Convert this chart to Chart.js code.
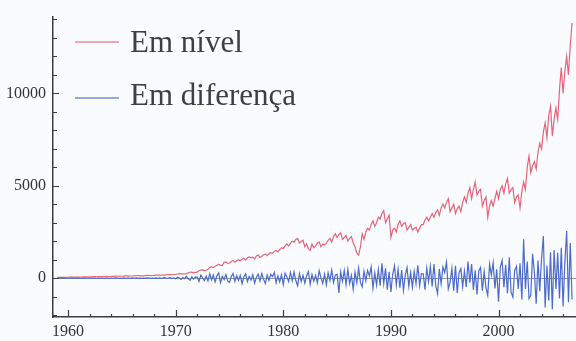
<!DOCTYPE html>
<html>
<head>
<meta charset="utf-8">
<script src="https://cdn.jsdelivr.net/npm/chart.js@4/dist/chart.umd.min.js"></script>
<style>
  html, body { margin: 0; padding: 0; background: #f9fbfd; }
  #wrap { width: 576px; height: 341px; }
  .fontprobe { position: absolute; left: -9999px; top: 0; font-family: "Liberation Serif", "DejaVu Serif", serif; }
</style>
</head>
<body>
<div id="wrap"><canvas id="c" width="576" height="341"></canvas></div>
<span class="fontprobe">Em nível 0123456789</span>
<script>
// Bimonthly series, January 1959 through November 2006 (six values per year)
const firstYear = 1959;
const periodsPerYear = 6;

const seriesNames = ['Em nível', 'Em diferença'];

// Level of the series (one row per year)
const emNivel = [
  40, 44, 48, 50, 46, 48,             // 1959
  50, 54, 58, 60, 56, 58,             // 1960
  60, 64, 68, 70, 66, 68,             // 1961
  70, 76, 80, 82, 78, 80,             // 1962
  84, 88, 92, 95, 90, 92,             // 1963
  95, 102, 108, 110, 104, 106,        // 1964
  105, 114, 120, 122, 115, 118,       // 1965
  118, 126, 132, 135, 128, 130,       // 1966
  130, 140, 148, 150, 140, 145,       // 1967
  150, 160, 168, 172, 160, 165,       // 1968
  170, 185, 195, 200, 185, 190,       // 1969
  200, 225, 245, 250, 220, 235,       // 1970
  240, 290, 320, 330, 290, 310,       // 1971
  320, 400, 440, 460, 400, 430,       // 1972
  480, 580, 620, 560, 650, 700,       // 1973
  760, 690, 680, 860, 880, 800,       // 1974
  820, 900, 960, 860, 940, 1000,      // 1975
  940, 1020, 1080, 980, 1100, 1150,   // 1976
  1100, 1150, 1040, 1200, 1250, 1120, // 1977
  1180, 1260, 1300, 1220, 1320, 1380, // 1978
  1350, 1450, 1500, 1420, 1560, 1650, // 1979
  1600, 1750, 1850, 1750, 1900, 2000, // 1980
  1950, 2100, 2150, 1900, 1980, 2050, // 1981
  1700, 1850, 1600, 1500, 1850, 1650, // 1982
  1750, 1900, 1950, 1700, 1850, 1800, // 1983
  1900, 2050, 2150, 1950, 2250, 2400, // 1984
  2200, 2350, 2450, 2100, 2200, 2300, // 1985
  2000, 2150, 2250, 1900, 1700, 1350, // 1986
  1250, 1700, 2400, 2100, 2500, 2700, // 1987
  2600, 2900, 3100, 2800, 3000, 3300, // 1988
  3200, 3500, 3650, 3000, 3200, 3400, // 1989
  2200, 2600, 2700, 2500, 2900, 3100, // 1990
  2800, 2950, 3000, 2600, 2750, 2900, // 1991
  2600, 2700, 2750, 2500, 2700, 2900, // 1992
  2900, 3150, 3300, 3100, 3300, 3500, // 1993
  3300, 3550, 3700, 3400, 3800, 4000, // 1994
  3800, 4100, 4300, 3600, 3800, 4000, // 1995
  3500, 3750, 3900, 3600, 4100, 4400, // 1996
  4100, 4600, 4900, 4300, 4800, 5200, // 1997
  4500, 4700, 4800, 3900, 4200, 4400, // 1998
  3300, 3900, 4200, 3900, 4300, 4700, // 1999
  4300, 4800, 5000, 4600, 5100, 5400, // 2000
  4600, 4800, 4900, 4100, 4400, 4500, // 2001
  3800, 4700, 5200, 4800, 6000, 6600, // 2002
  5700, 6100, 6300, 5900, 6800, 7300, // 2003
  7000, 7900, 8400, 7600, 8800, 9300, // 2004
  7700, 8600, 9200, 8600, 10200, 11400, // 2005
  10000, 11200, 12000, 11000, 12600, 13800 // 2006
];

// Period-to-period change of the series
const emDiferenca = [
  3, -2, 5, -1, 4, -3,                // 1959
  -4, 6, -2, 5, -3, 4,                // 1960
  3, -5, 7, -1, 6, -4,                // 1961
  6, 2, -7, 8, -3, 5,                 // 1962
  -3, 9, -5, 4, 7, -6,                // 1963
  8, -9, 3, 11, -6, 5,                // 1964
  -6, 13, -9, 5, 10, -8,              // 1965
  11, -4, 15, -11, 6, -9,             // 1966
  7, -14, 17, 2, -12, 10,             // 1967
  -10, 20, -6, 14, -16, 12,           // 1968
  24, -17, 8, 28, -20, 15,            // 1969
  -35, 55, 15, -65, 40, -30,          // 1970
  100, -40, -120, 85, -60, 70,        // 1971
  60, -180, 160, 20, -140, 110,       // 1972
  -150, 240, -90, 170, -200, 130,     // 1973
  290, -250, 110, -80, 200, -160,     // 1974
  -220, 90, 260, -170, 140, -120,     // 1975
  150, -300, 60, 230, -180, 100,      // 1976
  -110, 190, -270, 40, 220, -150,     // 1977
  250, -60, -290, 170, -120, 210,     // 1978
  90, 310, -240, 120, -200, 180,      // 1979
  -350, 270, 60, -190, 300, -140,     // 1980
  330, -140, -410, 240, -180, 150,    // 1981
  -270, 120, 360, -330, 200, -160,    // 1982
  150, -250, 400, 30, -290, 220,      // 1983
  -360, 290, -120, 440, -230, 180,    // 1984
  210, -800, 340, -170, 420, -350,    // 1985
  460, -290, 150, -600, 330, -240,    // 1986
  540, -230, -470, 370, -150, 420,    // 1987
  120, 600, -530, 290, -380, 460,     // 1988
  -410, 800, -290, 540, -620, 350,    // 1989
  -740, 210, 660, -370, 480, -520,    // 1990
  440, -660, 160, 570, -430, 300,     // 1991
  -500, 370, -290, 700, -400, 250,    // 1992
  240, -620, 540, -180, 630, -450,    // 1993
  760, -410, -840, 490, -300, 600,    // 1994
  310, 860, -580, -230, 520, -680,    // 1995
  670, -800, 300, 520, -460, 380,     // 1996
  -470, 900, -250, 760, -640, 430,    // 1997
  -880, 410, 590, -680, 350, -520,    // 1998
  -930, 760, 170, 840, -560, 480,     // 1999
  -1280, 600, 960, -490, 720, -820,   // 2000
  1130, -760, -1030, 410, 640, -580,  // 2001
  800, -1150, 2100, -590, 900, -1100, // 2002
  -930, 1320, 310, -1380, 950, -700,  // 2003
  1080, 2280, -1580, 690, -1200, 1400, // 2004
  -1680, 1520, -590, 1380, -1100, 1650, // 2005
  -1530, 880, 2550, -1300, 1900, -1150  // 2006
];

// Axis ticks
const yearLabels = [1960, 1970, 1980, 1990, 2000];
const yearMinorStep = 2;
const valueLabels = [0, 5000, 10000];
const valueMinorStep = 1000;

const xRange = [1958.6, 2007.2];
const yRange = [-2100, 14150];

const lineColors = ['#e5647a', '#4a6bc9'];
const serifStack = '"Liberation Serif", "DejaVu Serif", "Times New Roman", serif';

function toPoints(values) {
  return values.map((v, i) => ({ x: firstYear + i / periodsPerYear, y: v }));
}

function stepTicks(lo, hi, step) {
  const out = [];
  for (let v = Math.ceil(lo / step) * step; v <= hi; v += step) out.push({ value: v });
  return out;
}

// Tick marks drawn inward from the axis lines
const inwardTicks = {
  id: 'inwardTicks',
  afterDatasetsDraw(chart) {
    const ctx = chart.ctx;
    const xs = chart.scales.x, ys = chart.scales.y;
    const area = chart.chartArea;
    ctx.save();
    ctx.strokeStyle = '#3c3c3c';
    ctx.lineWidth = 1.2;
    ctx.beginPath();
    xs.ticks.forEach(t => {
      const px = Math.round(xs.getPixelForValue(t.value)) + 0.5;
      const len = yearLabels.includes(t.value) ? 7 : 3;
      ctx.moveTo(px, area.bottom);
      ctx.lineTo(px, area.bottom - len);
    });
    ys.ticks.forEach(t => {
      const py = Math.round(ys.getPixelForValue(t.value)) + 0.5;
      const len = valueLabels.includes(t.value) ? 6 : 4;
      ctx.moveTo(area.left, py);
      ctx.lineTo(area.left + len, py);
    });
    ctx.stroke();
    ctx.restore();
  }
};

// Legend with line samples, placed inside the plot
const innerLegend = {
  id: 'innerLegend',
  afterDraw(chart) {
    const ctx = chart.ctx;
    const rows = [{ lineY: 42, textY: 52 }, { lineY: 98, textY: 105 }];
    ctx.save();
    chart.data.datasets.forEach((ds, i) => {
      const r = rows[i];
      ctx.strokeStyle = ds.borderColor;
      ctx.globalAlpha = 0.75;
      ctx.lineWidth = 1.6;
      ctx.beginPath();
      ctx.moveTo(75, r.lineY);
      ctx.lineTo(119, r.lineY);
      ctx.stroke();
      ctx.globalAlpha = 1;
      ctx.fillStyle = '#3f3f3f';
      ctx.font = '31px ' + serifStack;
      ctx.textBaseline = 'alphabetic';
      ctx.textAlign = 'left';
      ctx.fillText(ds.label, 130, r.textY);
    });
    ctx.restore();
  }
};

const tickFont = { family: serifStack, size: 16 };

function draw() {
  new Chart(document.getElementById('c'), {
    type: 'line',
    data: {
      datasets: [
        { label: seriesNames[0], data: toPoints(emNivel), borderColor: lineColors[0], order: 2 },
        { label: seriesNames[1], data: toPoints(emDiferenca), borderColor: lineColors[1], order: 1 }
      ]
    },
    options: {
      responsive: false,
      devicePixelRatio: 1,
      animation: false,
      elements: {
        point: { radius: 0 },
        line: { borderWidth: 1.2, tension: 0 }
      },
      layout: { padding: { top: 12, right: 0, left: 0, bottom: 0 } },
      plugins: { legend: { display: false }, tooltip: { enabled: false } },
      scales: {
        x: {
          type: 'linear',
          min: xRange[0],
          max: xRange[1],
          afterBuildTicks(scale) { scale.ticks = stepTicks(xRange[0], xRange[1], yearMinorStep); },
          afterFit(scale) { scale.height = 24; },
          border: { display: true, color: '#3c3c3c', width: 1.5 },
          grid: { drawOnChartArea: false, drawTicks: false },
          ticks: {
            autoSkip: false,
            maxRotation: 0,
            padding: 5,
            color: '#333',
            font: tickFont,
            callback: v => yearLabels.includes(v) ? String(v) : ''
          }
        },
        y: {
          type: 'linear',
          min: yRange[0],
          max: yRange[1],
          afterBuildTicks(scale) { scale.ticks = stepTicks(yRange[0], yRange[1], valueMinorStep); },
          afterFit(scale) { scale.width = 53; },
          border: { display: true, color: '#3c3c3c', width: 1.5 },
          grid: {
            drawOnChartArea: true,
            drawTicks: false,
            color: c => (c.tick && c.tick.value === 0) ? '#9a9a9a' : 'rgba(0,0,0,0)',
            lineWidth: 1
          },
          ticks: {
            autoSkip: false,
            padding: 7,
            color: '#333',
            font: tickFont,
            callback: v => valueLabels.includes(v) ? String(v) : ''
          }
        }
      }
    },
    plugins: [inwardTicks, innerLegend]
  });
}

Promise.all([
  document.fonts.load('31px "Liberation Serif"'),
  document.fonts.load('16px "Liberation Serif"')
]).catch(() => {}).then(draw);
</script>
</body>
</html>
